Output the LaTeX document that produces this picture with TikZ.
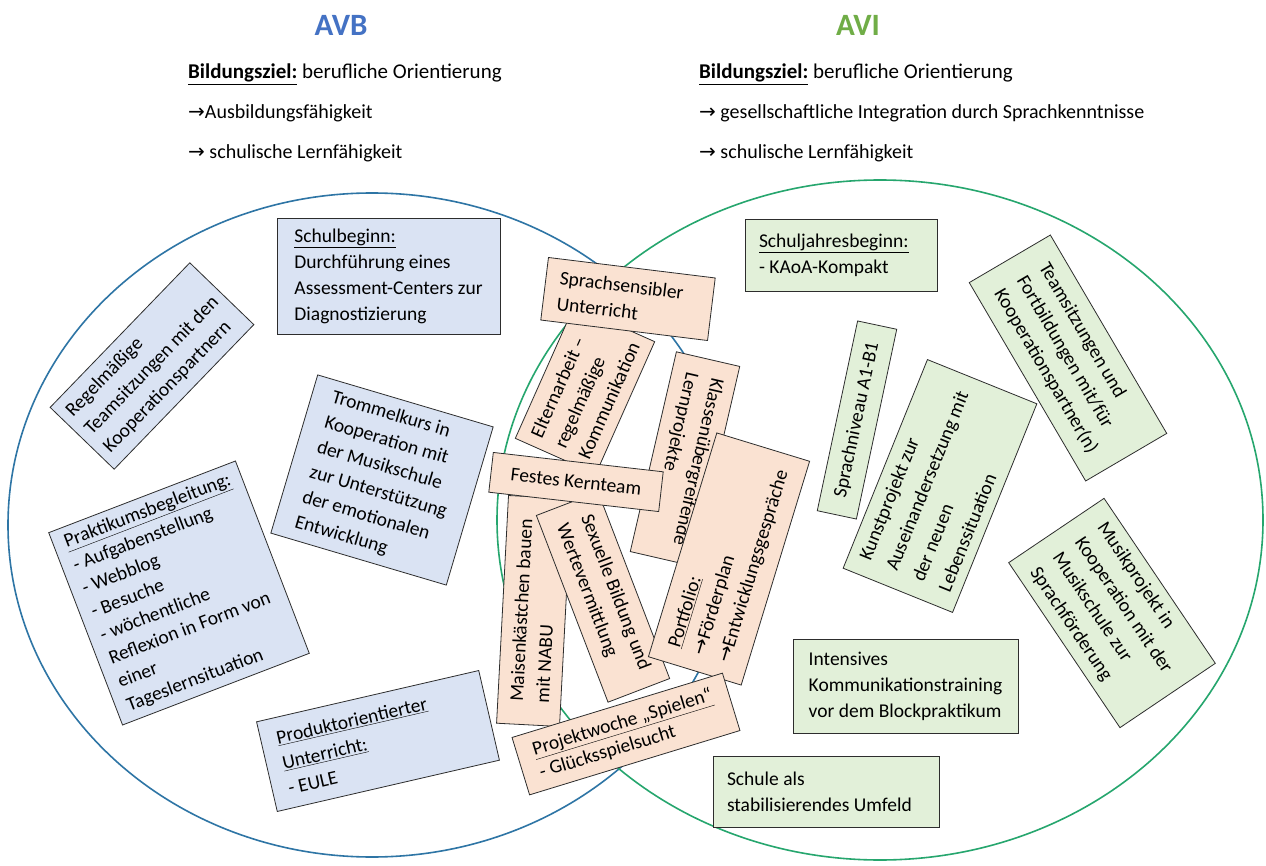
\documentclass[tikz,border=0pt]{standalone}
\usepackage{fontspec}
\setmainfont{Carlito}
\newfontfamily\arrowfont{DejaVu Sans}
\usepackage{tikz}
\usetikzlibrary{positioning}

\definecolor{avbline}{RGB}{46,117,165}
\definecolor{aviline}{RGB}{38,166,110}
\definecolor{avbtitle}{RGB}{68,114,196}
\definecolor{avititle}{RGB}{112,173,71}
\definecolor{avbfill}{RGB}{218,227,243}
\definecolor{avifill}{RGB}{226,240,217}
\definecolor{bothfill}{RGB}{250,226,210}
\definecolor{boxline}{RGB}{45,45,45}

\tikzstyle{textnode} = [inner sep=0pt, anchor=base west]
\tikzstyle{title} = [inner sep=0pt, anchor=base, font=\fontsize{31}{31}\selectfont\bfseries]
\tikzstyle{box} = [draw=boxline, line width=0.8pt, inner sep=3pt, align=flush left, font=\fontsize{19.5}{26}\selectfont]
\tikzstyle{avbbox} = [box, fill=avbfill]
\tikzstyle{avibox} = [box, fill=avifill]
\tikzstyle{bothbox} = [box, fill=bothfill]
\tikzstyle{circ} = [line width=1.6pt]

\newcommand{\arr}{{\arrowfont →}}

\begin{document}
\begin{tikzpicture}[x=1pt, y=-1pt]
			\useasboundingbox (0,0) rectangle (1266,866);
			\fill [white] (0,0) rectangle (1266,866);
			
			\node [title, text=avbtitle] (avb) at (341,36) {AVB};
			\node [title, text=avititle] (avi) at (858,36) {AVI};
			
			\node [textnode, font=\fontsize{21}{21}\selectfont] (zielavb) at (188,79) {\underline{\textbf{Bildungsziel:}} berufliche Orientierung};
			\node [textnode, font=\fontsize{20}{20}\selectfont] (avbeins) at (188,119) {\arr Ausbildungsfähigkeit};
			\node [textnode, font=\fontsize{20}{20}\selectfont] (avbzwei) at (188,159) {\arr{} schulische Lernfähigkeit};
			\node [textnode, font=\fontsize{21}{21}\selectfont] (zielavi) at (699,79) {\underline{\textbf{Bildungsziel:}} berufliche Orientierung};
			\node [textnode, font=\fontsize{20}{20}\selectfont] (avieins) at (699,119) {\arr{} gesellschaftliche Integration durch Sprachkenntnisse};
			\node [textnode, font=\fontsize{20}{20}\selectfont] (avizwei) at (699,159) {\arr{} schulische Lernfähigkeit};
			
			\draw [circ, avbline] (372,525) ellipse [x radius=364pt, y radius=332pt];
			\draw [circ, aviline] (880,520) ellipse [x radius=383pt, y radius=340pt];
			
			\node [avbbox, minimum width=223pt, minimum height=116pt] (schulbeginn) at (388.5,276) {\underline{Schulbeginn:}\\Durchführung eines\\Assessment-Centers zur\\Diagnostizierung};
			\node [avbbox, rotate=46, minimum width=201pt, minimum height=89pt] (regel) at (152,366) {Regelmäßige\\Teamsitzungen mit den\\Kooperationspartnern};
			\node [avbbox, rotate=-16.5, minimum width=183pt, minimum height=165pt] (trommel) at (382,480) {Trommelkurs in\\Kooperation mit\\der Musikschule\\zur Unterstützung\\der emotionalen\\Entwicklung};
			\node [avbbox, rotate=21, minimum width=200pt, minimum height=206pt, font=\fontsize{19.5}{25}\selectfont] (praktikum) at (179,593) {\underline{Praktikumsbegleitung:}\\ - Aufgabenstellung\\ - Webblog\\ - Besuche\\ - wöchentliche\\Reflexion in Form von\\einer\\Tageslernsituation};
			\node [avbbox, rotate=13, minimum width=228pt, minimum height=92pt, text width=196pt] (produkt) at (378,741) {\underline{Produktorientierter}\\\underline{Unterricht:}\\- EULE};
			
			\node [avibox, minimum width=192pt, minimum height=72pt, text width=164pt] (schuljahr) at (841,255) {\underline{Schuljahresbeginn:}\\- KAoA-Kompakt};
			\node [avibox, rotate=78, minimum width=194pt, minimum height=40pt] (niveau) at (857,420) {Sprachniveau A1-B1};
			\node [avibox, rotate=68, minimum width=225pt, minimum height=118pt, font=\fontsize{19.5}{28.5}\selectfont] (kunst) at (940,486) {Kunstprojekt zur\\Auseinandersetzung mit\\der neuen\\Lebenssituation};
			\node [avibox, rotate=-59.6, minimum width=230pt, minimum height=94pt] (team) at (1068,358) {Teamsitzungen und\\Fortbildungen mit/für\\Kooperationspartner(n)};
			\node [avibox, rotate=-56, minimum width=199pt, minimum height=115pt, font=\fontsize{19.5}{27}\selectfont] (musik) at (1112,613) {Musikprojekt in\\Kooperation mit der\\Musikschule zur\\Sprachförderung};
			\node [avibox, minimum width=225pt, minimum height=94pt] (intensiv) at (905.5,686) {Intensives\\Kommunikationstraining\\vor dem Blockpraktikum};
			\node [avibox, minimum width=226pt, minimum height=71pt, text width=198pt] (umfeld) at (826,791.5) {Schule als\\stabilisierendes Umfeld};
			
			\node [bothbox, rotate=66, minimum width=145pt, minimum height=88pt] (eltern) at (585,390) {Elternarbeit –\\regelmäßige\\Kommunikation};
			\node [bothbox, rotate=-7, minimum width=168pt, minimum height=63pt, text width=140pt] (sprachsens) at (628,299) {Sprachsensibler\\Unterricht};
			\node [bothbox, rotate=-103, minimum width=205pt, minimum height=65pt] (klassen) at (685,459) {Klassenübergreifende\\Lernprojekte};
			\node [bothbox, rotate=87, minimum width=228pt, minimum height=63pt] (maisen) at (534,611) {Maisenkästchen bauen\\mit NABU};
			\node [bothbox, rotate=-69, minimum width=200pt, minimum height=66pt] (sexuell) at (603,597) {Sexuelle Bildung und\\Wertevermittlung};
			\node [bothbox, rotate=-6.5, minimum width=171pt, minimum height=40pt] (kernteam) at (576,482) {Festes Kernteam};
			\node [bothbox, rotate=73, minimum width=234pt, minimum height=97pt] (portfolio) at (729,559) {\underline{Portfolio:}\\\arr Förderplan\\\arr Entwicklungsgespräche};
			\node [bothbox, rotate=17, minimum width=220pt, minimum height=60pt, font=\fontsize{19.5}{24}\selectfont] (projektwoche) at (626,734) {\underline{Projektwoche „Spielen“}\\- Glücksspielsucht};
		\end{tikzpicture}
\end{document}
